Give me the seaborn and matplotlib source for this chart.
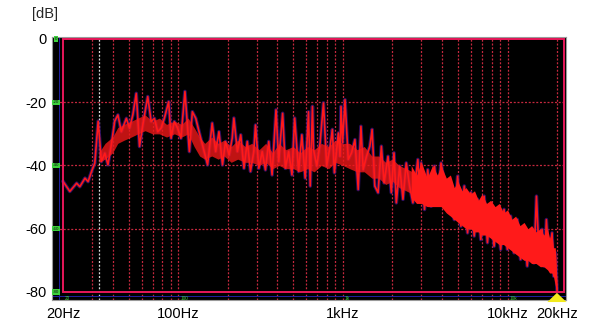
import matplotlib
matplotlib.use("Agg")
import matplotlib.pyplot as plt
import seaborn as sns
import pandas as pd
from matplotlib.patches import Rectangle

# ---- data (frequency in Hz, level in dB) ----
freq_hz = [20.0, 22.0, 24.2, 25.3, 27.2, 28.4, 29.8, 31.2, 32.7, 34.2, 35.9, 37.5, 39.3, 41.2, 43.1,
           45.2, 48.5, 50.7, 53.1, 55.7, 58.3, 61.0, 65.4, 68.6, 71.8, 75.2, 78.8, 82.5, 87.6, 90.6,
           94.8, 99.3, 104, 110, 117, 122, 128, 134, 144, 151, 161, 169, 177, 186, 194, 204, 213, 218,
           229, 240, 251, 263, 275, 288, 295, 309, 324, 339, 355, 372, 393, 408, 431, 448, 469, 491,
           510, 539, 564, 591, 619, 634, 654, 664, 695, 728, 763, 798, 837, 864, 889, 939, 962, 975,
           997, 1031, 1079, 1130, 1184, 1240, 1288, 1329, 1392, 1459, 1506, 1564, 1637, 1714, 1780,
           1881, 1970, 2045, 2112, 2214, 2318, 2427, 2544, 2664, 2854, 2920, 2989, 3133, 3278, 3434,
           3600, 3770, 3946, 4138, 4333, 4536, 4754, 4977, 5211, 5462, 5718, 5988, 6276, 6572, 6881,
           7212, 7550, 7906, 8288, 8678, 9087, 9526, 9973, 10440, 10946, 11460, 11998, 12578, 13168,
           13786, 14454, 14984, 15490, 16217, 16743, 17214, 17798, 18632, 19080, 19504, 20000]
level_db = [-45, -48.2, -45.6, -46.7, -44.0, -45.1, -41.9, -39.3, -26, -38.8, -36.1, -39.8, -33.5, -26, -24,
            -29.3, -25.1, -28.2, -24.0, -17.2, -34.0, -27.2, -18.2, -26.1, -25.1, -29.3, -28.2, -25.1, -19.8, -31.4,
            -26.1, -28.2, -31.4, -16.6, -35.6, -23.0, -25.1, -29.3, -35.6, -39.8, -26.6, -35.6, -29.3, -39.8, -32.4, -36.7, -31.4, -25,
            -35.6, -30.3, -40.9, -32.4, -41.9, -35.6, -27.2, -40.9, -35.6, -41.4, -32.4, -43.0, -22.4, -38.8, -23.5, -40.9, -35.6, -43.0,
            -25, -41.9, -30.3, -44.0, -23, -46.5, -21.3, -35.0, -40.2, -32.8, -20.2, -40.2, -33.9, -28.6, -42.3, -29.7, -37.1, -21.3,
            -32.8, -19.2, -38.1, -36.0, -31.8, -47.6, -27.6, -41.3, -37.1, -33.9, -28.6, -46.5, -48.6, -33.9, -45.5,
            -37.1, -48.6, -36.0, -51.8, -40.2, -50.7, -39.2, -46.5, -51.8, -38.1, -47, -39.2, -53.9, -41.3, -52.9,
            -40.2, -50.7, -39.2, -45.5, -49.7, -53.9, -57.1, -43.4, -59.2, -46.5, -61.3, -48.6, -62.3, -50.7, -63.4,
            -49.7, -64.4, -52.9, -65.5, -55.0, -66.5, -53.9, -66.5, -56.0, -67.6, -57.1, -69.7, -59.2, -71.8,
            -61.3, -70.8, -49.7, -66.5, -60.2, -71.8, -57.1, -69.7, -61.3, -75.0, -67.6, -80]

# body of the trace (dense part) between 33 Hz and 2.6 kHz
body_freq_hz = [33, 36, 40, 43, 47, 52, 57, 63, 70, 77, 85, 95, 105, 115, 125, 135, 145, 160, 175,
                190, 210, 230, 255, 280, 310, 340, 375, 410, 450, 500, 550, 610, 670, 740, 820, 900,
                1000, 1100, 1220, 1350, 1500, 1650, 1820, 2000, 2200, 2420, 2650]
body_hi_db = [-36, -33, -31, -28, -27, -26, -25, -24, -26, -25, -27, -26, -27, -25, -28, -31, -33, -31,
              -33, -32, -34, -32, -34, -33, -35, -33, -36, -33, -35, -34, -36, -34, -35, -33, -34, -32,
              -33, -33, -35, -34, -37, -37, -39, -38, -40, -41, -42]
body_lo_db = [-39, -38, -36, -33, -32, -31, -30, -29, -30, -30, -31, -30, -31, -30, -34, -37, -38, -37,
              -38, -37, -39, -38, -39, -39, -40, -39, -41, -40, -41, -41, -42, -41, -42, -40, -41, -39,
              -40, -41, -42, -42, -44, -44, -46, -45, -47, -48, -49]

# dense band of the spectrum at high frequencies
band_freq_hz = [2600, 2800, 3000, 3250, 3500, 3750, 3950, 4250, 4500, 4750, 5000, 5300, 5600, 5950,
                6300, 6650, 7000, 7450, 7900, 8400, 8900, 9450, 10000, 10600, 11200, 11900, 12600,
                13300, 14000, 14900, 15800, 16600, 17500, 18000, 18600, 19000, 19500, 20000]
band_hi_db = [-40, -43, -39, -44, -40, -43, -40, -44, -43, -47, -45, -48, -47, -49, -48, -51, -49, -52,
              -51, -53, -52, -55, -54, -57, -56, -59, -58, -60, -59, -61, -60, -62, -60, -63, -61, -66,
              -66, -79]
band_lo_db = [-50, -52, -52, -53, -53, -53, -53, -55, -56, -57, -58, -59, -60, -60, -61, -61, -62, -62,
              -63, -64, -65, -65, -66, -67, -68, -69, -70, -70, -71, -71, -72, -72, -73, -74, -74, -75,
              -78, -80]

grid_freqs = [30, 40, 50, 60, 70, 80, 90, 100, 200, 300, 400, 500, 600, 700, 800, 900, 1000,
              2000, 3000, 4000, 5000, 6000, 7000, 8000, 9000, 10000, 20000]
grid_levels = [-20, -40, -60]
marker_freq = 33.0

x_ticks = [20, 100, 1000, 10000, 20000]
x_tick_labels = ["20Hz", "100Hz", "1kHz", "10kHz", "20kHz"]
y_ticks = [0, -20, -40, -60, -80]
y_tick_labels = ["0", "-20", "-40", "-60", "-80"]
inner_x_ticks = [20, 100, 1000, 10000]
inner_x_labels = ["20", "100", "1k", "10k"]

df = pd.DataFrame({"freq": freq_hz, "level": level_db})

sns.set_theme(style="white")
plt.rcParams["font.family"] = ["Liberation Sans", "DejaVu Sans"]

fig = plt.figure(figsize=(6.0, 3.32), dpi=100)
fig.patch.set_facecolor("white")
ax = fig.add_axes([52 / 600, 32 / 332, 514 / 600, 263 / 332])
ax.set_facecolor("black")
ax.set_xscale("log")
ax.set_xlim(17.15, 22646)
ax.set_ylim(-82.53, 0.63)

grid_col = "#c4283e"
dots = (0, (1.6, 1.4))
for f in grid_freqs:
    ax.axvline(f, color=grid_col, lw=0.9, ls=dots, zorder=1)
for lv in grid_levels:
    ax.axhline(lv, color=grid_col, lw=0.9, ls=dots, zorder=1)
ax.axvline(marker_freq, color="#d8d8d8", lw=0.9, ls=dots, zorder=1)

# frame
ax.add_patch(Rectangle((20, -80), 21900 - 20, 80, fill=False, edgecolor="#e8175a", lw=1.4, zorder=5))
# faint blue lines outside frame
ax.axhline(-81.2, color="#2020a0", lw=0.7, zorder=1)
ax.axvline(19.0, color="#2020a0", lw=0.7, zorder=1)

# trace halo (under everything red)
sns.lineplot(data=df, x="freq", y="level", ax=ax, color="#3a1480", lw=2.6, alpha=0.75,
             estimator=None, sort=False, zorder=2)
ax.fill_between(body_freq_hz, body_lo_db, body_hi_db, color="#f01818", lw=0, alpha=0.8, zorder=3)
ax.fill_between(band_freq_hz, band_lo_db, band_hi_db, color="#ff1a1a", lw=0, zorder=3)
sns.lineplot(data=df, x="freq", y="level", ax=ax, color="#ff1a1a", lw=1.2,
             estimator=None, sort=False, zorder=4)

# small green scale labels inside
for lv, lab in zip(y_ticks, y_tick_labels):
    ax.text(18.2, lv, lab, fontsize=3.2, color="#101010", ha="center", va="center", zorder=6,
            bbox=dict(boxstyle="square,pad=0.15", fc="#3cd03c", ec="none"))
for f, lab in zip(inner_x_ticks, inner_x_labels):
    ax.text(f * 1.03, -81.9, lab, fontsize=3.4, color="#3cd03c", ha="left", va="center", zorder=6)

# yellow marker arrow at 20 kHz
ax.annotate("", xy=(19950, -79.4), xytext=(19950, -83.2),
            arrowprops=dict(arrowstyle="simple,head_width=1.15,head_length=0.55,tail_width=0.55",
                            color="#f2ea1c", lw=0), zorder=7, annotation_clip=False)

ax.set_xticks(x_ticks)
ax.set_xticklabels(x_tick_labels)
ax.set_yticks(y_ticks)
ax.set_yticklabels(y_tick_labels)
ax.minorticks_off()
ax.tick_params(axis="both", length=0, labelsize=10.5, colors="black")
ax.tick_params(axis="x", pad=5)
ax.tick_params(axis="y", pad=4)
ax.set_xlabel("")
ax.set_ylabel("")
for s in ax.spines.values():
    s.set_color("#9a9a9a")
    s.set_linewidth(0.8)

fig.text(32 / 600, 1 - 14 / 332, "[dB]", fontsize=10.5, ha="left", va="center")

fig.savefig("out.png", dpi=100, facecolor="white")
